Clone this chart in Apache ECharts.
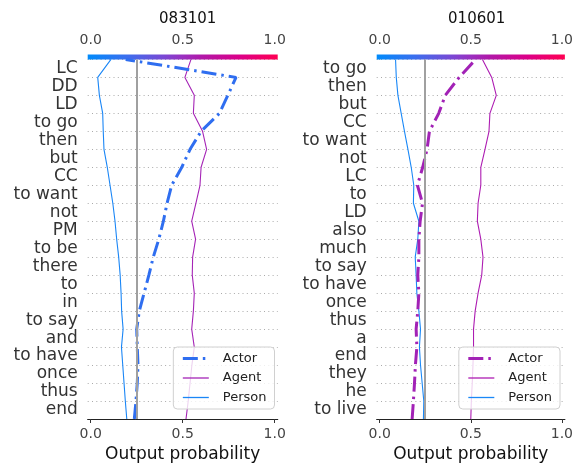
<!DOCTYPE html>
<html>
<head>
<meta charset="utf-8">
<script src="https://cdn.jsdelivr.net/npm/echarts@6/dist/echarts.min.js"></script>
<style>html,body{margin:0;padding:0;background:#fff}#c{width:576px;height:468px}</style>
</head>
<body>
<div id="c"></div>
<script>
// ---- data (index 0 = bottom of plot, index 20 = top / final output) ----
const leftTitle = '083101';
const rightTitle = '010601';
const leftLabels = ['LC','DD','LD','to go','then','but','CC','to want','not','PM','to be','there','to','in','to say','and','to have','once','thus','end'];
const rightLabels = ['to go','then','but','CC','to want','not','LC','to','LD','also','much','to say','to have','once','thus','a','end','they','he','to live'];
const leftActor  = [0.237,0.246,0.253,0.257,0.253,0.250,0.264,0.290,0.316,0.340,0.370,0.395,0.415,0.440,0.495,0.540,0.600,0.700,0.745,0.790,0.190];
const leftAgent  = [0.518,0.530,0.540,0.550,0.563,0.549,0.558,0.563,0.552,0.554,0.570,0.549,0.572,0.594,0.600,0.630,0.608,0.558,0.563,0.512,0.545];
const leftPerson = [0.196,0.188,0.181,0.174,0.167,0.176,0.168,0.165,0.160,0.152,0.141,0.132,0.120,0.105,0.090,0.072,0.068,0.065,0.047,0.038,0.110];
const rightActor  = [0.178,0.185,0.191,0.196,0.204,0.200,0.209,0.215,0.209,0.215,0.215,0.222,0.235,0.207,0.236,0.260,0.273,0.324,0.360,0.436,0.527];
const rightAgent  = [0.500,0.503,0.508,0.512,0.515,0.515,0.524,0.540,0.560,0.567,0.555,0.536,0.540,0.555,0.555,0.578,0.600,0.605,0.640,0.615,0.564];
const rightPerson = [0.240,0.242,0.233,0.224,0.218,0.224,0.215,0.204,0.200,0.195,0.209,0.215,0.185,0.187,0.173,0.155,0.136,0.118,0.100,0.091,0.087];
const baseValue = 0.25;
const xTicks = [0, 0.5, 1];
const seriesNames = ['Actor','Agent','Person'];

// ---- styling ----
const FONT = 'DejaVu Sans';
const XMIN = -0.0165, XMAX = 1.0165;
const gradStops = [
  {offset:0, color:'#008bfb'},{offset:0.2, color:'#3a6fee'},{offset:0.4, color:'#7a48d4'},
  {offset:0.5, color:'#9a30c0'},{offset:0.6, color:'#b018a8'},{offset:0.8, color:'#dc0088'},{offset:1, color:'#ff0052'}];
const colors = {
  left:  {Actor:'#2f6ef0', Agent:'#a524b6', Person:'#1a86f6'},
  right: {Actor:'#a222b6', Agent:'#ad1cb2', Person:'#1a88f7'}
};
const panels = [
  {left:87.7, labels:leftLabels, title:leftTitle, data:{Actor:leftActor, Agent:leftAgent, Person:leftPerson}, col:colors.left, suffix:'', legendRight:301.5},
  {left:376.7, labels:rightLabels, title:rightTitle, data:{Actor:rightActor, Agent:rightAgent, Person:rightPerson}, col:colors.right, suffix:'2', legendRight:16}
];
const W = 190, TOP = 59.4, H = 359.6;

const option = {
  animation:false,
  backgroundColor:'#fff',
  textStyle:{fontFamily:FONT},
  title:[], grid:[], xAxis:[], yAxis:[], series:[], legend:[]
};

panels.forEach((p, i) => {
  const gMain = i*2, gBar = i*2+1;
  option.title.push({text:p.title, left:p.left + W/2, top:7, textAlign:'center',
    textStyle:{fontFamily:FONT, fontSize:15, fontWeight:'normal', color:'#111'}});
  option.grid.push({left:p.left, width:W, top:TOP, height:H});
  option.grid.push({left:p.left, width:W, top:54.5, height:5});
  // main x axis (bottom)
  option.xAxis.push({type:'value', gridIndex:gMain, min:XMIN, max:XMAX, position:'bottom',
    name:'Output probability', nameLocation:'middle', nameGap:27,
    nameTextStyle:{fontFamily:FONT, fontSize:17, color:'#111'},
    axisLine:{show:true, lineStyle:{color:'#222', width:1.2}},
    axisTick:{show:true, length:4, lineStyle:{color:'#333'}, customValues:xTicks},
    axisLabel:{fontFamily:FONT, fontSize:14, color:'#444', margin:8, customValues:xTicks, formatter:v=>v.toFixed(1)},
    splitLine:{show:false}});
  // colorbar x axis (top)
  option.xAxis.push({type:'value', gridIndex:gBar, min:XMIN, max:XMAX, position:'top',
    axisLine:{show:false},
    axisTick:{show:true, length:4, lineStyle:{color:'#666'}, customValues:xTicks},
    axisLabel:{fontFamily:FONT, fontSize:14, color:'#444', margin:7, customValues:xTicks, formatter:v=>v.toFixed(1)},
    splitLine:{show:false}});
  // category labels axis
  option.yAxis.push({type:'category', gridIndex:gMain, data:p.labels, inverse:true, boundaryGap:true,
    axisLine:{show:false}, axisTick:{show:false, interval:0},
    axisLabel:{fontFamily:FONT, fontSize:17, color:'#333', margin:10, interval:0},
    splitLine:{show:true, interval:0, lineStyle:{color:'#aaa', width:1, type:[1,3.3]}}});
  // hidden value axis for line data
  option.yAxis.push({type:'value', gridIndex:gMain, min:0, max:20, show:false});
  // hidden value axis for colorbar
  option.yAxis.push({type:'value', gridIndex:gBar, min:0, max:1, show:false});
  const yCat = i*3, yVal = i*3+1, yBar = i*3+2;

  // colorbar
  option.series.push({type:'line', xAxisIndex:gBar, yAxisIndex:yBar, data:[[0,0.5]], symbol:'none',
    lineStyle:{opacity:0}, silent:true, z:5,
    markArea:{silent:true, itemStyle:{color:new echarts.graphic.LinearGradient(0,0,1,0,gradStops)},
      data:[[{coord:[XMIN,0]},{coord:[XMAX,1]}]]}});
  // base value line
  option.series.push({type:'line', xAxisIndex:gMain, yAxisIndex:yVal, data:[], symbol:'none', silent:true, z:1,
    markLine:{silent:true, symbol:'none', label:{show:false}, lineStyle:{color:'#a0a0a0', width:2, type:'solid'},
      data:[{xAxis:baseValue}]}});
  // decision lines
  ['Person','Agent','Actor'].forEach(n => {
    const isActor = n === 'Actor';
    option.series.push({
      name:n + p.suffix, type:'line', xAxisIndex:gMain, yAxisIndex:yVal,
      data:p.data[n].map((v,k)=>[v,k]), symbol:'none', showSymbol:false, z: isActor ? 4 : 3,
      lineStyle:{color:p.col[n], width:isActor?3:1.1, type:isActor?[15,5,2.5,5]:'solid'},
      itemStyle:{color:p.col[n]}
    });
  });
  option.legend.push({
    orient:'vertical', right:p.legendRight, top:347,
    data:seriesNames.map(n=>({name:n + p.suffix, lineStyle:{width:n==='Actor'?3:1.3}, itemStyle:{opacity:0}})),
    formatter:name=>name.replace(/2$/,''),
    itemWidth:26, itemHeight:14, itemGap:6.5, padding:[5,8,5,8],
    itemStyle:{opacity:0, borderWidth:0},
    backgroundColor:'rgba(255,255,255,0.8)', borderColor:'#d0d0d0', borderWidth:1, borderRadius:4,
    textStyle:{fontFamily:FONT, fontSize:13, color:'#222', padding:[0,0,0,9]},
    selectedMode:false
  });
});

const chart = echarts.init(document.getElementById('c'), null, {renderer:'canvas'});
chart.setOption(option);
</script>
</body>
</html>
